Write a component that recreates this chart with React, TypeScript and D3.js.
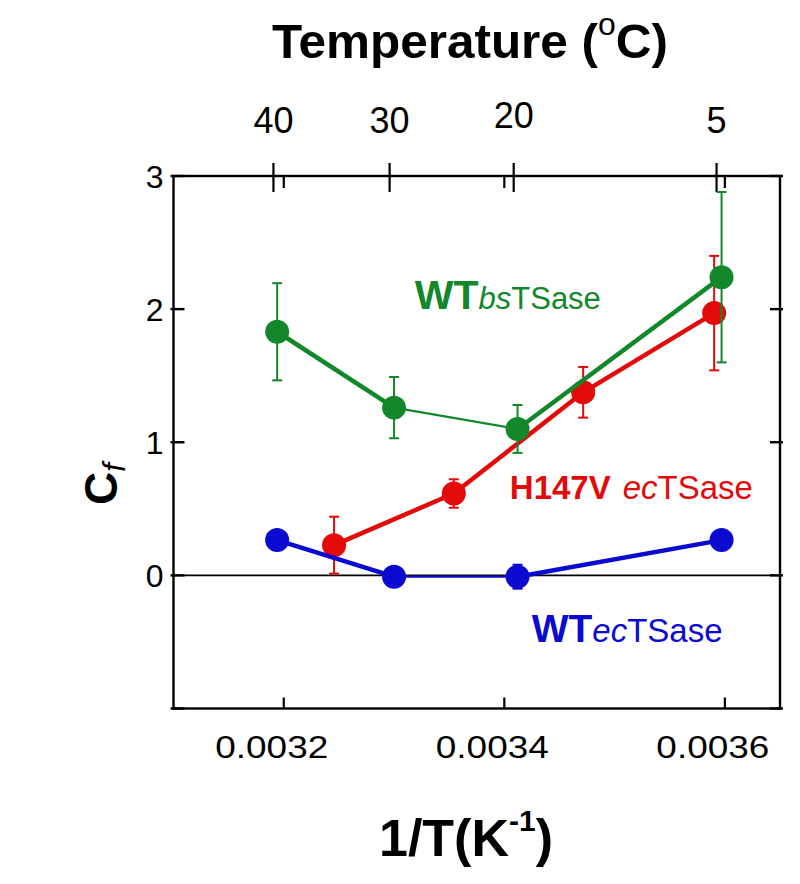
import React from "react";
import * as d3 from "d3";

// ---------- data ----------
const greenX = [0.003194, 0.0033, 0.003412, 0.003597];
const greenY = [1.83, 1.26, 1.1, 2.24];
const greenErr = [0.365, 0.23, 0.18, 0.64];

const redX = [0.0032456, 0.0033542, 0.0034715, 0.0035903];
const redY = [0.227, 0.615, 1.375, 1.97];
const redErr = [0.214, 0.107, 0.19, 0.43];

const blueX = [0.003194, 0.0033, 0.003412, 0.003597];
const blueY = [0.265, -0.01, -0.01, 0.265];
const blueErr = [0.03, 0.03, 0.09, 0.03];

const bottomTicks = [0.0032, 0.0034, 0.0036];
const bottomTickLabels = ["0.0032", "0.0034", "0.0036"];
const leftTicks = [-1, 0, 1, 2, 3];
const leftTickLabels = ["", "0", "1", "2", "3"];
const topTemps = [40, 30, 20, 5];
const topTempLabels = ["40", "30", "20", "5"];

// ---------- layout / style ----------
const W = 800;
const H = 884;
const FONT = "'Liberation Sans', Arial, Helvetica, sans-serif";
const GREEN = "#12882a";
const RED = "#e30a0a";
const BLUE = "#0a0ad0";

const x = d3.scaleLinear().domain([0.0031, 0.00365]).range([173.5, 780]);
const y = d3.scaleLinear().domain([-1, 3]).range([708.5, 176]);
const tempToX = (t: number) => x(1 / (t + 273.15));

type Series = {
  xs: number[];
  ys: number[];
  errs: number[];
  color: string;
  segWidths: number[];
};

const series: Series[] = [
  { xs: redX, ys: redY, errs: redErr, color: RED, segWidths: [4.5, 4.5, 4.5] },
  { xs: greenX, ys: greenY, errs: greenErr, color: GREEN, segWidths: [4.5, 2.4, 4.5] },
  { xs: blueX, ys: blueY, errs: blueErr, color: BLUE, segWidths: [4.5, 2.2, 4.5] },
];

function SeriesMarks({ s }: { s: Series }) {
  const pts = s.xs.map((xv, i) => [x(xv), y(s.ys[i])] as [number, number]);
  const line = d3.line();
  return (
    <g>
      {pts.slice(0, -1).map((p, i) => (
        <path
          key={"seg" + i}
          d={line([p, pts[i + 1]]) || ""}
          stroke={s.color}
          strokeWidth={s.segWidths[i]}
          fill="none"
        />
      ))}
      {s.xs.map((xv, i) => {
        const cx = x(xv);
        const y1 = y(s.ys[i] + s.errs[i]);
        const y2 = y(s.ys[i] - s.errs[i]);
        return (
          <g key={"err" + i} stroke={s.color} strokeWidth={2}>
            <line x1={cx} x2={cx} y1={y1} y2={y2} />
            <line x1={cx - 5} x2={cx + 5} y1={y1} y2={y1} />
            <line x1={cx - 5} x2={cx + 5} y1={y2} y2={y2} />
          </g>
        );
      })}
      {pts.map((p, i) => (
        <circle key={"pt" + i} cx={p[0]} cy={p[1]} r={12} fill={s.color} />
      ))}
    </g>
  );
}

export default function App() {
  const [x0, x1] = x.range();
  const [yb, yt] = y.range();
  return (
    <svg
      width={W}
      height={H}
      style={{ position: "absolute", left: 0, top: 0, background: "#fff" }}
      fontFamily={FONT}
    >
      <rect width={W} height={H} fill="#fff" />

      {/* zero line */}
      <line x1={x0} x2={x1} y1={y(0)} y2={y(0)} stroke="#000" strokeWidth={1.8} />

      {/* frame */}
      <rect x={x0} y={yt} width={x1 - x0} height={yb - yt} fill="none" stroke="#000" strokeWidth={2.4} />

      {/* left ticks (inward) and right ticks (crossing) */}
      {leftTicks.map((t) => (
        <g key={"lt" + t} stroke="#000" strokeWidth={2.4}>
          <line x1={x0 - 3} x2={x0 + 11} y1={y(t)} y2={y(t)} />
          <line x1={x1 - 10} x2={x1 + 3} y1={y(t)} y2={y(t)} />
        </g>
      ))}
      {leftTicks.map((t, i) => (
        <text
          key={"ll" + t}
          x={x0 - 10}
          y={y(t)}
          dy="0.36em"
          textAnchor="end"
          fontSize={32}
          fill="#000"
        >
          {leftTickLabels[i]}
        </text>
      ))}

      {/* bottom ticks (inward) + mirrored on top */}
      {bottomTicks.map((t) => (
        <g key={"bt" + t} stroke="#000" strokeWidth={2.2}>
          <line x1={x(t)} x2={x(t)} y1={yb} y2={yb - 11} />
          <line x1={x(t)} x2={x(t)} y1={yt} y2={yt + 12} />
        </g>
      ))}
      {bottomTicks.map((t, i) => (
        <text
          key={"bl" + t}
          x={x(t) - 12}
          y={758}
          textAnchor="middle"
          fontSize={32}
          textLength={113}
          lengthAdjust="spacingAndGlyphs"
          fill="#000"
        >
          {bottomTickLabels[i]}
        </text>
      ))}

      {/* top temperature ticks (crossing) */}
      {topTemps.map((t) => (
        <line
          key={"tt" + t}
          x1={tempToX(t) - 3}
          x2={tempToX(t) - 3}
          y1={yt - 13}
          y2={yt + 16}
          stroke="#000"
          strokeWidth={2.2}
        />
      ))}
      {topTemps.map((t, i) => (
        <text
          key={"tl" + t}
          x={tempToX(t) - 3}
          y={t === 20 ? 128 : 133}
          textAnchor="middle"
          fontSize={36}
          fill="#000"
        >
          {topTempLabels[i]}
        </text>
      ))}

      {/* series */}
      {series.map((s, i) => (
        <SeriesMarks key={"s" + i} s={s} />
      ))}

      {/* annotations */}
      <text x={x(0.0033188)} y={y(2.0)} fill={GREEN}>
        <tspan fontWeight="bold" fontSize={41}>WT</tspan>
        <tspan fontStyle="italic" fontSize={31}>bs</tspan>
        <tspan fontSize={31}>TSase</tspan>
      </text>
      <text x={x(0.003405)} y={y(0.57)} fill={RED} fontSize={33}>
        <tspan fontWeight="bold">H147V</tspan>
        <tspan fontStyle="italic" dx={12}>ec</tspan>
        <tspan>TSase</tspan>
      </text>
      <text x={x(0.0034248)} y={y(-0.5)} fill={BLUE}>
        <tspan fontWeight="bold" fontSize={39}>WT</tspan>
        <tspan fontStyle="italic" fontSize={33}>ec</tspan>
        <tspan fontSize={33}>TSase</tspan>
      </text>

      {/* top title */}
      <text x={470} y={58} textAnchor="middle" fontWeight="bold" fontSize={48} fill="#000" textLength={396} lengthAdjust="spacingAndGlyphs">
        <tspan>Temperature (</tspan>
        <tspan fontSize={31} dy={-23} fontWeight="normal">o</tspan>
        <tspan dy={23}>C)</tspan>
      </text>

      {/* bottom title */}
      <text x={466} y={856} textAnchor="middle" fontWeight="bold" fontSize={52} fill="#000">
        <tspan>1/T(K</tspan>
        <tspan fontSize={30} dy={-25}>-1</tspan>
        <tspan dy={25}>)</tspan>
      </text>

      {/* y title */}
      <text transform="translate(117,484) rotate(-90)" textAnchor="middle" fill="#000">
        <tspan fontWeight="bold" fontSize={46}>C</tspan>
        <tspan fontStyle="italic" fontSize={31} dy={8}>f</tspan>
      </text>
    </svg>
  );
}
